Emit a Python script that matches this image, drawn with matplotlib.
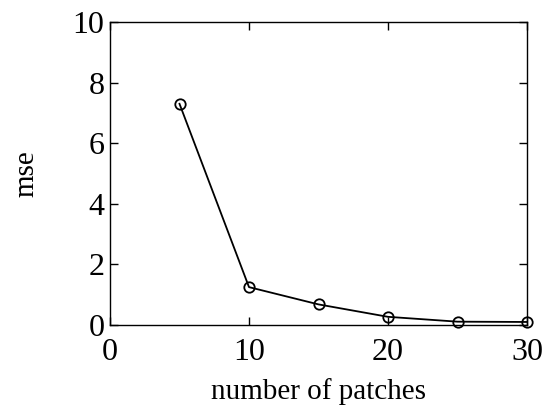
import matplotlib.pyplot as plt

patches = [5, 10, 15, 20, 25, 30]
mse = [7.3, 1.25, 0.68, 0.27, 0.11, 0.1]

plt.rcParams['font.family'] = ['Liberation Serif', 'DejaVu Serif']

fig = plt.figure(figsize=(5.48, 4.07), dpi=100)
ax = fig.add_axes([110 / 548, 1 - 325 / 407, 417 / 548, 303 / 407])

ax.plot(patches, mse, color='black', linewidth=1.3, marker='o', markersize=7.5,
        markerfacecolor='none', markeredgecolor='black', markeredgewidth=1.3,
        clip_on=False)

ax.set_xlim(0, 30)
ax.set_ylim(0, 10)
ax.set_xticks([0, 10, 20, 30])
ax.set_yticks([0, 2, 4, 6, 8, 10])
ax.tick_params(direction='in', top=True, right=True, length=6, width=1,
               labelsize=23)
ax.tick_params(axis='x', pad=9)
ax.tick_params(axis='y', pad=4)
for s in ax.spines.values():
    s.set_linewidth(1)

ax.set_xlabel('number of patches', fontsize=21, labelpad=8)
ax.set_ylabel('mse', fontsize=21, labelpad=24)

fig.savefig('out.png', dpi=100)
